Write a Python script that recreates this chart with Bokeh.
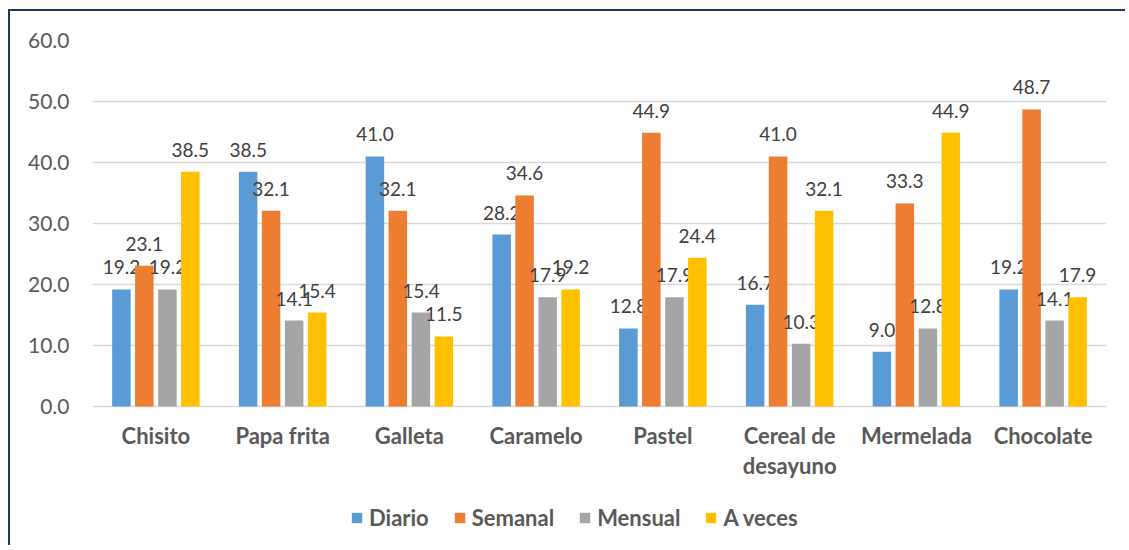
from bokeh.plotting import figure
from bokeh.models import ColumnDataSource, FactorRange, Legend, LegendItem, Range1d, NumeralTickFormatter, FixedTicker
from bokeh.transform import dodge
from bokeh.core.properties import value
from bokeh.embed import file_html
from bokeh.resources import INLINE

categories = ["Chisito", "Papa frita", "Galleta", "Caramelo", "Pastel",
              "Cereal de desayuno", "Mermelada", "Chocolate"]
category_labels = ["Chisito", "Papa frita", "Galleta", "Caramelo", "Pastel",
                   "Cereal de\ndesayuno", "Mermelada", "Chocolate"]
series_names = ["Diario", "Semanal", "Mensual", "A veces"]
diario = [19.2, 38.5, 41.0, 28.2, 12.8, 16.7, 9.0, 19.2]
semanal = [23.1, 32.1, 32.1, 34.6, 44.9, 41.0, 33.3, 48.7]
mensual = [19.2, 14.1, 15.4, 17.9, 17.9, 10.3, 12.8, 14.1]
a_veces = [38.5, 15.4, 11.5, 19.2, 24.4, 32.1, 44.9, 17.9]
colors = ["#5B9BD5", "#ED7D31", "#A5A5A5", "#FFC000"]
y_ticks = [0, 10, 20, 30, 40, 50, 60]

data = dict(cat=categories, cat_label=category_labels, zero=[0] * len(categories),
            Diario=diario, Semanal=semanal, Mensual=mensual, A_veces=a_veces)
for k in ["Diario", "Semanal", "Mensual", "A_veces"]:
    data[k + "_lbl"] = ["%.1f" % v for v in data[k]]
src = ColumnDataSource(data)

FONT = "Lato"
p = figure(x_range=FactorRange(*categories, range_padding=0), y_range=Range1d(-23.1, 60),
           width=1117, height=536, output_backend="svg", toolbar_location=None,
           min_border_left=82, min_border_right=21, min_border_top=29, min_border_bottom=0)
p.styles = {"border-left": "2px solid #203864", "border-top": "2px solid #203864",
            "margin-top": "9px", "margin-left": "8px"}
p.outline_line_color = None
p.xgrid.grid_line_color = None
p.ygrid.grid_line_color = "#D9D9D9"
p.ygrid.grid_line_width = 1.5
p.ygrid.ticker = FixedTicker(ticks=y_ticks)

offsets = [-0.272, -0.091, 0.091, 0.272]
keys = ["Diario", "Semanal", "Mensual", "A_veces"]
renderers = []
for key, off, col in zip(keys, offsets, colors):
    r = p.vbar(x=dodge("cat", off, range=p.x_range), top=key, width=0.146, source=src,
               fill_color=col, line_color=None)
    renderers.append(r)
    p.text(x=dodge("cat", off, range=p.x_range), y=key, text=key + "_lbl", source=src,
           text_align="center", text_baseline="middle", y_offset=-22,
           text_font=value(FONT), text_font_size="19px", text_color="#404040")

# category labels below the zero line
p.text(x="cat", y="zero", text="cat_label", source=src, text_align="center",
       text_baseline="top", y_offset=15, text_line_height=1.12,
       text_font=value(FONT), text_font_style="bold", text_font_size="22px", text_color="#595959")

p.xaxis.visible = False
p.yaxis.ticker = FixedTicker(ticks=y_ticks)
p.yaxis.formatter = NumeralTickFormatter(format="0.0")
p.yaxis.axis_line_color = None
p.yaxis.major_tick_line_color = None
p.yaxis.minor_tick_line_color = None
p.yaxis.major_label_text_font = FONT
p.yaxis.major_label_text_font_size = "21px"
p.yaxis.major_label_text_color = "#595959"
p.yaxis.major_label_standoff = 17

legend = Legend(items=[LegendItem(label=n, renderers=[r]) for n, r in zip(series_names, renderers)],
                orientation="horizontal", location=(258, 16), padding=10,
                label_text_font=FONT, label_text_font_style="bold", label_text_font_size="22px",
                label_text_color="#595959", glyph_width=13, glyph_height=13, spacing=24,
                label_standoff=6, border_line_color=None, background_fill_alpha=0)
p.add_layout(legend)

open("out.html", "w").write(file_html(p, INLINE))
